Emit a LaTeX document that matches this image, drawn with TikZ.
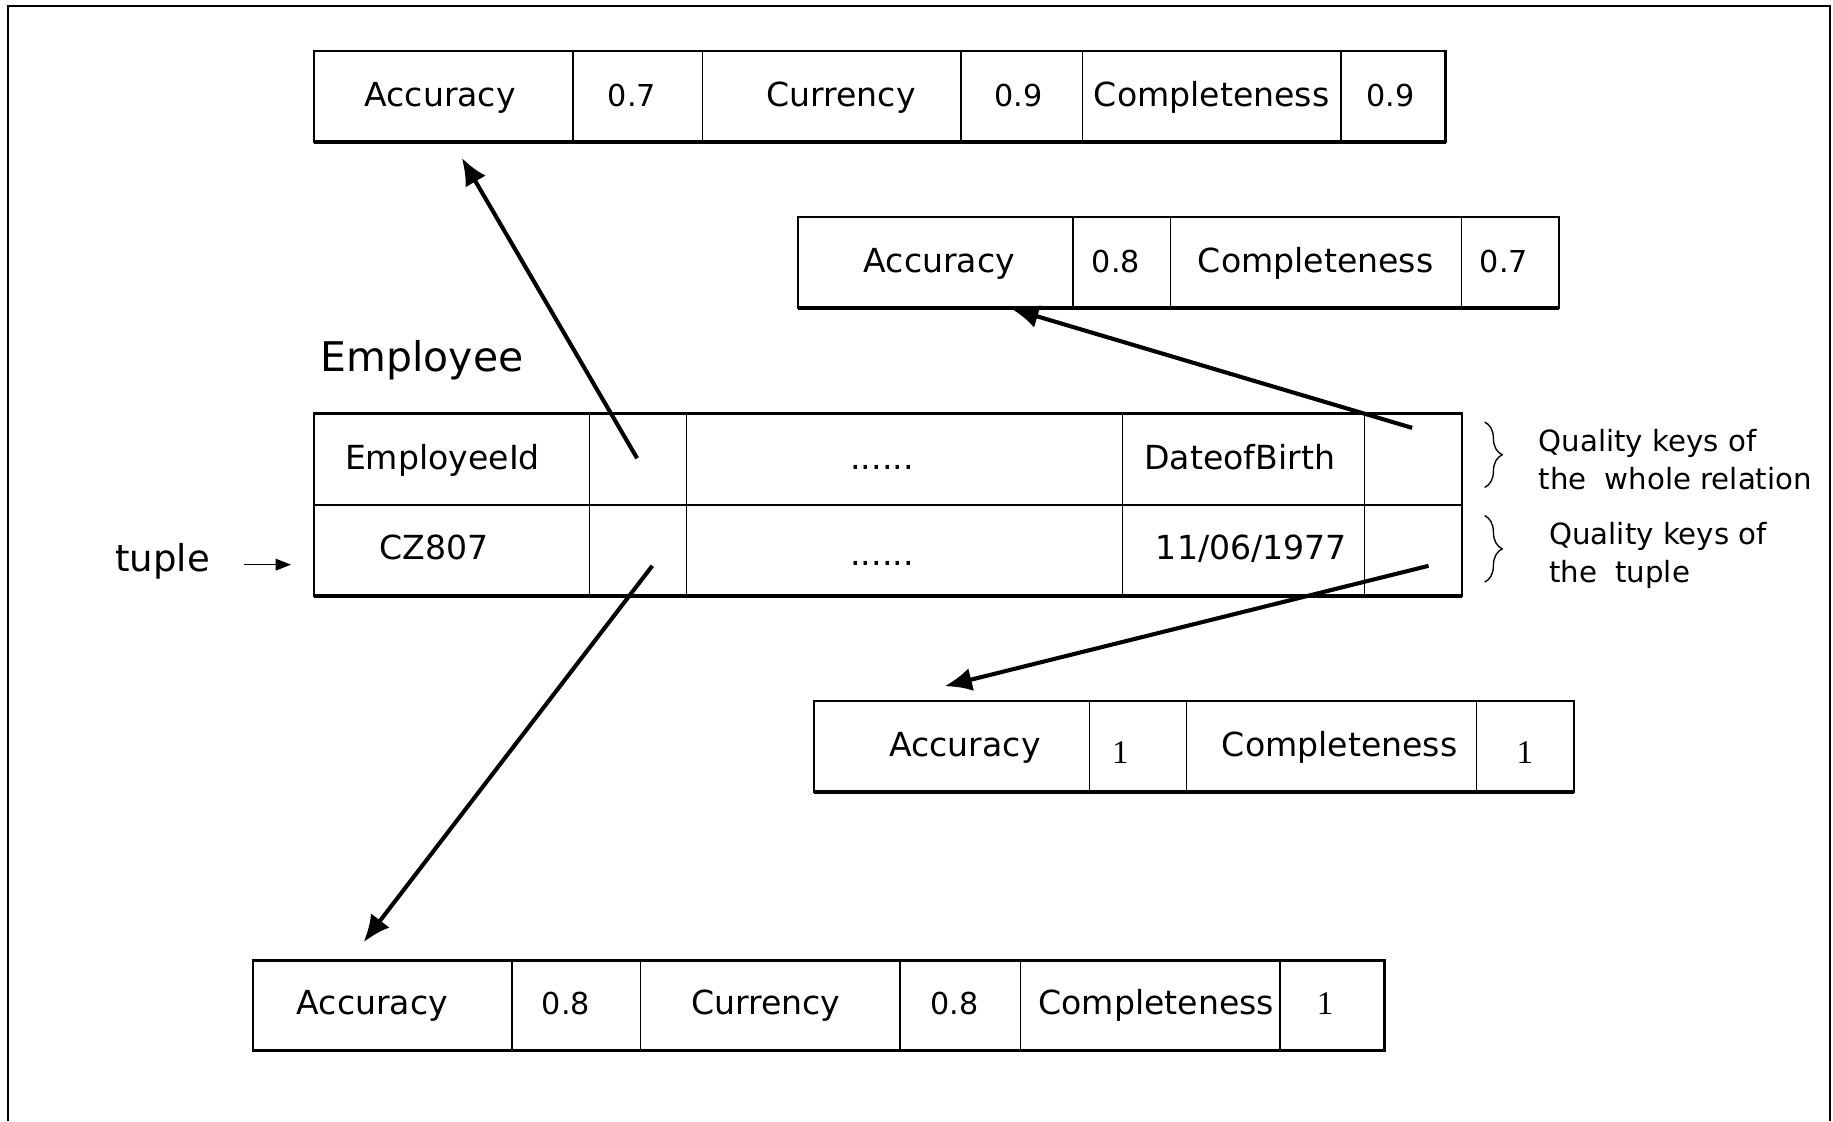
\documentclass[tikz,border=0pt]{standalone}
\usepackage{fontspec}
\setmainfont{DejaVu Sans}
\newfontfamily\numfont{Liberation Serif}
\usetikzlibrary{arrows.meta,decorations.pathreplacing}
\newdimen\qu \qu=0.6pt
\newcommand\qmv[2]{\makebox[0pt]{\hspace*{#1\qu}#2\hspace*{-#1\qu}}}
\tikzset{
  qcell/.style={draw, line width=0.7pt, inner sep=0pt, font=\fontsize{17}{19}\selectfont, text height=2ex, text depth=0.2ex},
  qnum/.style={font=\fontsize{15.5}{17}\selectfont},
  qone/.style={font=\numfont\fontsize{17}{19}\selectfont},
  qframe/.style={line width=1.2pt},
  qbottom/.style={line width=2pt},
  qarrow/.style={line width=2.1pt, -{Latex[length=14pt,width=12pt]}},
  qnote/.style={font=\fontsize{15}{19.8}\selectfont, align=left, anchor=west, inner sep=0pt},
}
\newcommand\qcell[7][]{\node[qcell,#1, minimum width={(#4-#3)*0.6pt}, minimum height={(#6-#5)*0.6pt}] (#2) at ({(#3+#4)/2},{(#5+#6)/2}) {#7};}
\begin{document}
\begin{tikzpicture}[x=0.6pt,y=-0.6pt]
\useasboundingbox (0,0) rectangle (1568,959);
% outer frame (open at bottom)
\draw[line width=1.1pt] (7,959) -- (7,5) -- (1565.5,5) -- (1565.5,959);

% top box
\qcell{t1}{269}{490}{44}{121}{\qmv{-3}{Accuracy}}
\qcell[qnum]{t2}{490}{601}{44}{121}{\qmv{-5}{0.7}}
\qcell{t3}{601}{822}{44}{121}{\qmv{8}{Currency}}
\qcell[qnum]{t4}{822}{926}{44}{121}{\qmv{-3}{0.9}}
\qcell{t5}{926}{1147}{44}{121}{Completeness}
\qcell[qnum]{t6}{1147}{1236}{44}{121}{\qmv{-2}{0.9}}
\draw[qframe] (t1.north west) rectangle (t6.south east);
\draw[qbottom] (t1.south west) -- (t6.south east);

% second box
\qcell{r1}{683}{918}{186}{263}{\qmv{3}{Accuracy}}
\qcell[qnum]{r2}{918}{1001}{186}{263}{\qmv{-5}{0.8}}
\qcell{r3}{1001}{1250}{186}{263}{Completeness}
\qcell[qnum]{r4}{1250}{1333}{186}{263}{\qmv{-5}{0.7}}
\draw[qframe] (r1.north west) rectangle (r4.south east);
\draw[qbottom] (r1.south west) -- (r4.south east);

% Employee label
\node[font=\fontsize{21}{24}\selectfont, anchor=base west, inner sep=0pt] (emp) at (274,318) {Employee};

% employee table
\qcell{e1}{269}{504}{354}{432}{\qmv{-8}{EmployeeId}}
\qcell{e2}{504}{587}{354}{432}{}
\qcell{e3}{587}{960}{354}{432}{\qmv{-19}{......}}
\qcell{e4}{960}{1167}{354}{432}{\qmv{-3}{DateofBirth}}
\qcell{e5}{1167}{1250}{354}{432}{}
\qcell{f1}{269}{504}{432}{509}{\qmv{-15}{CZ807}}
\qcell{f2}{504}{587}{432}{509}{}
\qcell{f3}{587}{960}{432}{509}{\qmv{-19}{\raisebox{-3pt}{......}}}
\qcell{f4}{960}{1167}{432}{509}{\qmv{7}{11/06/1977}}
\qcell{f5}{1167}{1250}{432}{509}{}
\draw[qframe] (e1.north west) rectangle (f5.south east);
\draw[qbottom] (f1.south west) -- (f5.south east);

% tuple label
\node[font=\fontsize{19}{22}\selectfont, inner sep=0pt] (tuple) at (139,480) {tuple};
\coordinate (tupa) at (209,483);
\coordinate (tupb) at (249,483);
\draw[line width=0.8pt, -{Triangle[length=8pt,width=6pt]}] (tupa) -- (tupb);

% braces and notes
\draw[line width=0.7pt, decorate, decoration={brace, amplitude=9pt}] (1270,361) -- (1270,417) coordinate[pos=0.5] (b1);
\draw[line width=0.7pt, decorate, decoration={brace, amplitude=9pt}] (1270,441) -- (1270,498) coordinate[pos=0.5] (b2);
\node[qnote] (n1) at (1316,393) {Quality keys of\\the\hspace{0.3em} whole relation};
\node[qnote] (n2) at (1325,475) {Quality keys of\\the\hspace{0.3em} tuple};

% third box
\qcell{s1}{697}{932}{600}{677}{\qmv{11}{Accuracy}}
\qcell[qone]{s2}{932}{1015}{600}{677}{\qmv{-15}{\raisebox{-4pt}{1}}}
\qcell{s3}{1015}{1263}{600}{677}{\qmv{7}{Completeness}}
\qcell[qone]{s4}{1263}{1346}{600}{677}{\raisebox{-4pt}{1}}
\draw[qframe] (s1.north west) rectangle (s4.south east);
\draw[qbottom] (s1.south west) -- (s4.south east);

% bottom box
\qcell{u1}{217}{438}{822}{898}{\qmv{-9}{Accuracy}}
\qcell[qnum]{u2}{438}{548}{822}{898}{\qmv{-9}{0.8}}
\qcell{u3}{548}{770}{822}{898}{\qmv{-4}{Currency}}
\qcell[qnum]{u4}{770}{873}{822}{898}{\qmv{-5}{0.8}}
\qcell{u5}{873}{1095}{822}{898}{\qmv{5}{Completeness}}
\qcell[qone]{u6}{1095}{1184}{822}{898}{\qmv{-6}{1}}
\draw[qframe] (u1.north west) rectangle (u6.south east);
\draw[qbottom] (u1.south west) -- (u6.south east);

% arrows
\coordinate (a1s) at (545,392);
\coordinate (a1e) at (395,135);
\coordinate (a2s) at (1208,366);
\coordinate (a2e) at (865,264);
\coordinate (a3s) at (1222,484);
\coordinate (a3e) at (808,587);
\coordinate (a4s) at (558,484);
\coordinate (a4e) at (311,806);
\draw[qarrow] (a1s) -- (a1e);
\draw[qarrow] (a2s) -- (a2e);
\draw[qarrow] (a3s) -- (a3e);
\draw[qarrow] (a4s) -- (a4e);
\end{tikzpicture}
\end{document}
